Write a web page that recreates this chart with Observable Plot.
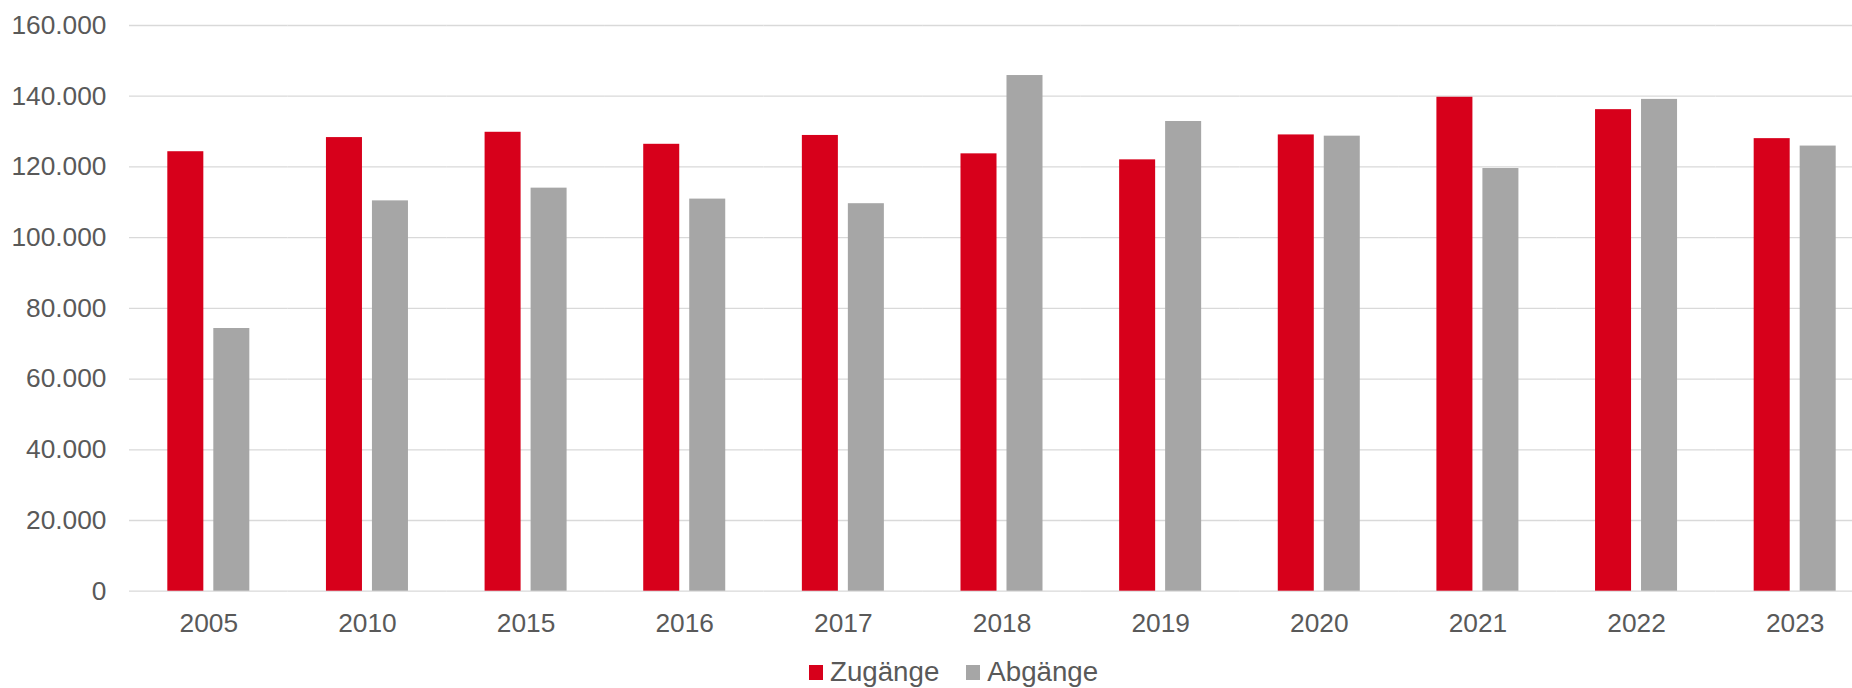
<!DOCTYPE html>
<html>
<head>
<meta charset="utf-8">
<script src="https://cdn.jsdelivr.net/npm/d3@7"></script>
<script src="https://cdn.jsdelivr.net/npm/@observablehq/plot@0.6"></script>
<style>
  html, body { margin: 0; padding: 0; background: #fff; overflow: hidden; }
  #wrap { position: relative; width: 1852px; height: 688px; overflow: hidden; font-family: "Liberation Sans", Arial, sans-serif; }
  #legend { position: absolute; left: 809px; top: 657px; display: flex; align-items: center; font-size: 27.7px; color: #595959; white-space: nowrap; }
  #legend .sw { display: inline-block; width: 14px; height: 15px; margin-right: 7px; }
  #legend .item { display: flex; align-items: center; margin-right: 27px; line-height: 30px; }
</style>
</head>
<body>
<div id="wrap"><div id="chart"></div><div id="legend"></div></div>
<script>
const years = ["2005", "2010", "2015", "2016", "2017", "2018", "2019", "2020", "2021", "2022", "2023"];
const zugaenge = [124300, 128300, 129800, 126400, 128900, 123700, 122000, 129050, 139700, 136200, 128000];
const abgaenge = [74300, 110400, 114000, 110900, 109600, 145850, 132850, 128700, 119550, 139100, 125900];
const seriesNames = ["Zugänge", "Abgänge"];
const seriesColors = ["#d7001b", "#a6a6a6"];
const yTicks = [0, 20000, 40000, 60000, 80000, 100000, 120000, 140000, 160000];

const data = [];
years.forEach((y, i) => {
  data.push({year: y, series: seriesNames[0], value: zugaenge[i]});
  data.push({year: y, series: seriesNames[1], value: abgaenge[i]});
});

const de = d3.formatLocale({decimal: ",", thousands: ".", grouping: [3], currency: ["", " €"]});
const fmt = de.format(",");

const chart = Plot.plot({
  width: 1874,
  height: 640,
  marginLeft: 129,
  marginRight: 0,
  marginTop: 25,
  marginBottom: 49.3,
  style: {fontFamily: '"Liberation Sans", Arial, sans-serif', fontSize: "26.3px", color: "#595959", background: "#fff", maxWidth: "none", overflow: "visible"},
  fx: {domain: years, padding: 0, round: false, label: null, axis: "bottom", tickSize: 0, tickPadding: 22},
  x: {domain: seriesNames, paddingInner: 0.217, paddingOuter: 0.833, round: false, axis: null},
  y: {domain: [0, 160000], ticks: yTicks, tickFormat: fmt, label: null, tickSize: 0, tickPadding: 23},
  color: {domain: seriesNames, range: seriesColors},
  marks: [
    Plot.gridY(yTicks, {stroke: "#d9d9d9", strokeOpacity: 1, strokeWidth: 1.3}),
    Plot.barY(data, {fx: "year", x: "series", y: "value", fill: "series"}),
    Plot.axisY({ticks: yTicks, tickFormat: fmt, tickSize: 0, tickPadding: 23, label: null})
  ]
});
document.getElementById("chart").appendChild(chart);

const legend = document.getElementById("legend");
seriesNames.forEach((name, i) => {
  const item = document.createElement("span");
  item.className = "item";
  const sw = document.createElement("span");
  sw.className = "sw";
  sw.style.background = seriesColors[i];
  const t = document.createElement("span");
  t.textContent = name;
  item.appendChild(sw);
  item.appendChild(t);
  legend.appendChild(item);
});
</script>
</body>
</html>
